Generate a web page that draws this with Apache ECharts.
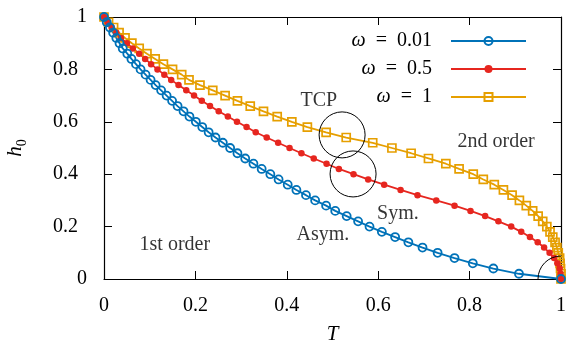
<!DOCTYPE html>
<html><head><meta charset="utf-8">
<script src="https://cdn.jsdelivr.net/npm/echarts@6/dist/echarts.min.js"></script>
<style>html,body{margin:0;padding:0;background:#fff}#c{width:566px;height:345px}</style>
</head><body><div id="c"></div>
<script>
// order-parameter levels (each marker sits on one of these h0 values)
const hValues = [1.00,0.98,0.96,0.94,0.92,0.90,0.88,0.86,0.84,0.82,0.80,0.78,0.76,0.74,0.72,0.70,0.68,0.66,0.64,0.62,0.60,0.58,0.56,0.54,0.52,0.50,0.48,0.46,0.44,0.42,0.40,0.38,0.36,0.34,0.32,0.30,0.28,0.26,0.24,0.22,0.20,0.18,0.16,0.14,0.12,0.10,0.08,0.06,0.04,0.02,0.00];
// temperature T for each h0 level
const tOmega001 = [0,0.006,0.013,0.020,0.027,0.034,0.041,0.051,0.060,0.070,0.080,0.091,0.102,0.113,0.125,0.137,0.149,0.161,0.174,0.187,0.201,0.215,0.229,0.244,0.260,0.276,0.292,0.309,0.327,0.345,0.364,0.382,0.402,0.421,0.442,0.462,0.486,0.506,0.531,0.556,0.581,0.608,0.637,0.666,0.697,0.730,0.767,0.807,0.852,0.908,1.0];
const tOmega05 = [0,0.008,0.017,0.027,0.037,0.050,0.063,0.077,0.090,0.103,0.117,0.132,0.147,0.163,0.180,0.197,0.214,0.232,0.251,0.271,0.291,0.312,0.332,0.356,0.381,0.406,0.432,0.459,0.487,0.514,0.546,0.578,0.613,0.649,0.686,0.727,0.767,0.802,0.834,0.863,0.891,0.913,0.932,0.949,0.963,0.975,0.985,0.992,0.997,0.999,1.0];
const tOmega1 = [0,0.010,0.021,0.033,0.046,0.061,0.077,0.094,0.112,0.130,0.150,0.170,0.186,0.210,0.238,0.265,0.292,0.320,0.349,0.379,0.411,0.445,0.486,0.530,0.588,0.630,0.672,0.710,0.748,0.777,0.808,0.830,0.854,0.874,0.893,0.909,0.924,0.938,0.950,0.960,0.969,0.976,0.982,0.987,0.991,0.994,0.997,0.998,0.999,1.000,1.000];
const seriesNames = ['ω = 0.01','ω = 0.5','ω = 1'];
const xTicks = [0,0.2,0.4,0.6,0.8,1];
const yTicks = [0,0.2,0.4,0.6,0.8,1];
// highlighted regions (centres, data coords)
const circleCentres = [[0.521,0.550],[0.545,0.401],[1.0,0.0]];
// annotations: [T, h0, text]
const notes = [[0.470,0.679,'TCP'],[0.858,0.523,'2nd order'],[0.643,0.248,'Sym.'],[0.479,0.168,'Asym.'],[0.155,0.130,'1st order']];

const FONT = 'Liberation Serif';
const BLUE = '#0072b8', RED = '#e6261f', ORANGE = '#e69f00';
const pair = t => hValues.map((h,i)=>[t[i],h]);

const chart = echarts.init(document.getElementById('c'), null, {renderer:'canvas'});
const baseAxis = {
  min: 0, max: 1, interval: 0.2, splitLine:{show:false},
  axisLine:{show:true, onZero:false, lineStyle:{color:'#000', width:1.2}},
  axisTick:{show:true, inside:true, length:8, lineStyle:{color:'#000', width:1}}
};
chart.setOption({
  animation:false,
  grid:{left:104, right:5, top:17, bottom:66, outerBoundsMode:'none'},
  xAxis:[
    Object.assign({}, baseAxis, {type:'value', position:'bottom',
      name:'T', nameLocation:'middle', nameGap:45,
      nameTextStyle:{fontFamily:FONT, fontSize:21, fontStyle:'italic', color:'#000'},
      axisLabel:{margin:17, fontFamily:FONT, fontSize:20, color:'#000',
        formatter: v => xTicks.includes(+v.toFixed(1)) ? String(+v.toFixed(1)) : ''}}),
    Object.assign({}, baseAxis, {type:'value', position:'top', axisLabel:{show:false}})
  ],
  yAxis:[
    Object.assign({}, baseAxis, {type:'value', position:'left',
      name:'{i|h}{s|0}', nameLocation:'middle', nameGap:78, nameRotate:90,
      nameTextStyle:{rich:{
        i:{fontFamily:FONT, fontSize:21, fontStyle:'italic', color:'#000', lineHeight:21, verticalAlign:'top'},
        s:{fontFamily:FONT, fontSize:14, color:'#000', lineHeight:14, padding:[10,0,0,0], verticalAlign:'top'}}},
      axisLabel:{margin:17, fontFamily:FONT, fontSize:20, color:'#000',
        formatter: v => { const r = +v.toFixed(1); if(!yTicks.includes(r)) return ''; return (r===0||r===1) ? '{n|'+r+'}' : '{d|'+r+'}'; },
        rich:{n:{fontFamily:FONT, fontSize:20, color:'#000'}, d:{fontFamily:FONT, fontSize:20, color:'#000', padding:[0,9,0,0]}}}}),
    Object.assign({}, baseAxis, {type:'value', position:'right', axisLabel:{show:false}})
  ],
  legend:{
    data: seriesNames, orient:'vertical', right:34, top:26, align:'right',
    itemWidth:75, itemHeight:10, itemGap:8, selectedMode:false,
    formatter: n => '{i|ω}\u2002=\u2002{t|' + n.split('= ')[1] + '}',
    textStyle:{fontFamily:FONT, fontSize:20, lineHeight:20, color:'#000', padding:[0,14,0,0],
      rich:{i:{fontFamily:FONT, fontSize:20, fontStyle:'italic', color:'#000'},
            t:{fontFamily:FONT, fontSize:20, color:'#000'}}}
  },
  series:[
    {type:'line', name:seriesNames[2], data:pair(tOmega1), symbol:'rect', symbolSize:8,
      lineStyle:{color:ORANGE, width:1.8}, itemStyle:{color:'rgba(0,0,0,0)', borderColor:ORANGE, borderWidth:1.7}, silent:true},
    {type:'line', name:seriesNames[1], data:pair(tOmega05), symbol:'circle', symbolSize:6.5,
      lineStyle:{color:RED, width:1.8}, itemStyle:{color:RED, borderWidth:0}, silent:true},
    {type:'line', name:seriesNames[0], data:pair(tOmega001), symbol:'circle', symbolSize:8,
      lineStyle:{color:BLUE, width:1.8}, itemStyle:{color:'rgba(0,0,0,0)', borderColor:BLUE, borderWidth:1.8}, silent:true},
    {type:'custom', name:'circles', data:circleCentres, clip:true, silent:true, z:5,
      renderItem:(params, api) => {
        const p = api.coord([api.value(0), api.value(1)]);
        return {type:'circle', shape:{cx:p[0], cy:p[1], r:23}, style:{fill:'none', stroke:'#000', lineWidth:1}};
      }},
    {type:'scatter', name:'notes', data:notes.map(n=>({value:[n[0],n[1]], label:{formatter:n[2]}})),
      symbolSize:1, itemStyle:{color:'rgba(0,0,0,0)'}, silent:true, z:6,
      label:{show:true, position:'inside', fontFamily:FONT, fontSize:20, color:'#000'}}
  ]
});
</script></body></html>
